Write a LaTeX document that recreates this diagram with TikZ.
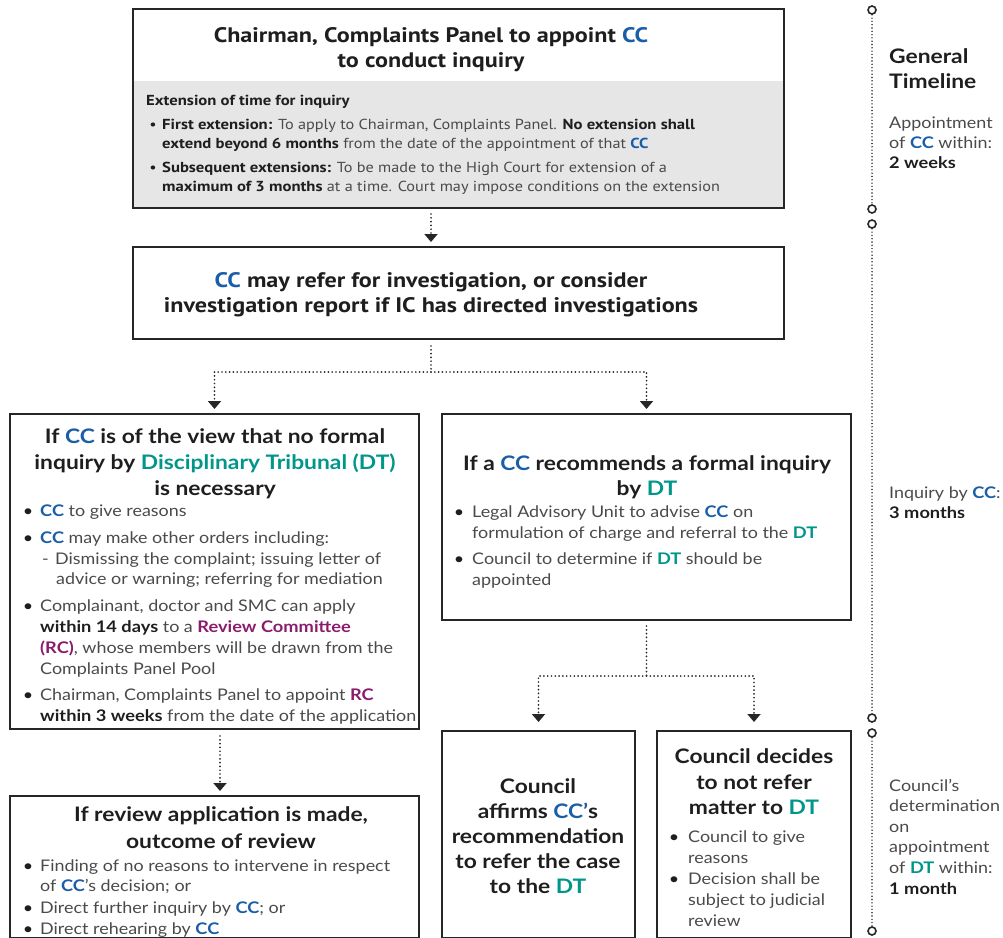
\documentclass[tikz,border=0pt]{standalone}
\usepackage{fontspec}
\setmainfont{Lato}[FakeStretch=1.12, BoldFeatures={FakeStretch=1.14}]
\newfontfamily\myriad{PT Sans}[FakeStretch=1.12, BoldFeatures={FakeStretch=1.15}]
\usetikzlibrary{arrows.meta}
\definecolor{ccblue}{HTML}{1B5EA8}
\definecolor{dtteal}{HTML}{00968A}
\definecolor{rcpurple}{HTML}{8A1C6E}
\definecolor{boxgray}{HTML}{E6E6E6}
\definecolor{ink}{HTML}{1E1E1E}
\definecolor{bodyink}{HTML}{4A4A4A}
\definecolor{frame}{HTML}{262626}
\newcommand{\ccx}{\textcolor{ccblue}{\textbf{CC}}}
\newcommand{\dtx}{\textcolor{dtteal}{\textbf{DT}}}
\newcommand{\rcx}{\textcolor{rcpurple}{\textbf{RC}}}
\newcommand{\bk}[1]{\textcolor{ink}{\textbf{#1}}}
\tikzset{
  box/.style={draw=frame, line width=2.6pt, anchor=north west, inner sep=0, outer sep=0},
  hd/.style={anchor=base, inner sep=0, text=ink, font=\fontsize{20}{24}\selectfont\bfseries},
  thd/.style={anchor=base, inner sep=0, text=ink, font=\myriad\fontsize{21}{25}\selectfont\bfseries},
  tbd/.style={anchor=base west, inner sep=0, text=bodyink, font=\myriad\fontsize{14.5}{17}\selectfont},
  bd/.style={anchor=base west, inner sep=0, text=bodyink, font=\fontsize{16}{19}\selectfont},
  bl/.style={anchor=base, inner sep=0, text=ink, font=\fontsize{16}{19}\selectfont},
  tl/.style={anchor=base west, inner sep=0, text=bodyink, font=\fontsize{16}{19}\selectfont},
  tlh/.style={anchor=base west, inner sep=0, text=ink, font=\fontsize{20}{24}\selectfont\bfseries},
  conn/.style={draw=frame, line width=1.9pt, dash pattern=on 0pt off 3.8pt, line cap=round},
  tip/.style={-{Triangle[width=13pt,length=8pt]}},
  tline/.style={draw=frame, line width=1.6pt, dash pattern=on 0pt off 3.3pt, line cap=round},
  tcirc/.style={circle, draw=frame, line width=1.6pt, fill=white, minimum size=8pt, inner sep=0},
}
\begin{document}
\begin{tikzpicture}[x=1pt,y=-1pt]
\useasboundingbox (0,0) rectangle (1003,937);
\coordinate (ax) at (431,0);
\coordinate (ax2) at (220,0);

% ---------- boxes ----------
\fill[boxgray] (134,81) rectangle (783,207);
\node[box, minimum width=651pt, minimum height=199pt] (top) at (133,9) {};
\node[box, minimum width=651pt, minimum height=92pt] (box2) at (133,247) {};
\node[box, minimum width=409pt, minimum height=315pt] (lbox) at (10,414) {};
\node[box, minimum width=409pt, minimum height=206pt] (rbox) at (442,414) {};
\node[box, minimum width=409pt, minimum height=142pt] (lbbox) at (10,796) {};
\node[box, minimum width=193pt, minimum height=207pt] (mbox) at (442,731) {};
\node[box, minimum width=194pt, minimum height=207pt] (rrbox) at (657,731) {};

% ---------- top box text ----------
\node[thd] (t1) at (431,42.5) {Chairman, Complaints Panel to appoint \ccx};
\node[thd] (t2) at (431,67.5) {to conduct inquiry};
\node[tbd, text=ink, font=\myriad\fontsize{14.5}{17}\selectfont\bfseries] (t3) at (146,105.5) {Extension of time for inquiry};
\node[bl, font=\myriad\fontsize{14.5}{17}\selectfont] (t4) at (153,129.5) {•};
\node[tbd] (t5) at (162,129.5) {\bk{First extension:} To apply to Chairman, Complaints Panel. \bk{No extension shall}};
\node[tbd] (t6) at (162,148.5) {\bk{extend beyond 6 months} from the date of the appointment of that \ccx};
\node[bl, font=\myriad\fontsize{14.5}{17}\selectfont] (t7) at (153,172.5) {•};
\node[tbd] (t8) at (162,172.5) {\bk{Subsequent extensions:} To be made to the High Court for extension of a};
\node[tbd] (t9) at (162,191) {\bk{maximum of 3 months} at a time. Court may impose conditions on the extension};

% ---------- box 2 ----------
\node[thd] (b1) at (431,287.5) {\ccx{} may refer for investigation, or consider};
\node[thd] (b2) at (431,312.5) {investigation report if IC has directed investigations};

% ---------- left box ----------
\node[hd] (l1) at (215,443) {If \ccx{} is of the view that no formal};
\node[hd] (l2) at (215,469) {inquiry by \textcolor{dtteal}{Disciplinary Tribunal (DT)}};
\node[hd] (l3) at (215,495) {is necessary};
\node[bl] (l4) at (28,516) {•};
\node[bd] (l5) at (40,516) {\ccx{} to give reasons};
\node[bl] (l6) at (28,543) {•};
\node[bd] (l7) at (40,543) {\ccx{} may make other orders including:};
\node[bd] (l8) at (42,564) {-};
\node[bd] (l9) at (55,564) {Dismissing the complaint; issuing letter of};
\node[bd] (l10) at (56,584) {advice or warning; referring for mediation};
\node[bl] (l11) at (28,611) {•};
\node[bd] (l12) at (40,611) {Complainant, doctor and SMC can apply};
\node[bd] (l13) at (40,632) {\bk{within 14 days} to a \textcolor{rcpurple}{\textbf{Review Committee}}};
\node[bd] (l14) at (40,653) {\textcolor{rcpurple}{\textbf{(RC)}}, whose members will be drawn from the};
\node[bd] (l15) at (40,674) {Complaints Panel Pool};
\node[bl] (l16) at (28,700) {•};
\node[bd] (l17) at (40,700) {Chairman, Complaints Panel to appoint \rcx};
\node[bd] (l18) at (40,721) {\bk{within 3 weeks} from the date of the application};

% ---------- right box ----------
\node[hd] (r1) at (647,470) {If a \ccx{} recommends a formal inquiry};
\node[hd] (r2) at (647,495) {by \dtx};
\node[bl] (r3) at (459,517) {•};
\node[bd] (r4) at (472,517) {Legal Advisory Unit to advise \ccx{} on};
\node[bd] (r5) at (472,538) {formulation of charge and referral to the \dtx};
\node[bl] (r6) at (459,564) {•};
\node[bd] (r7) at (472,564) {Council to determine if \dtx{} should be};
\node[bd] (r8) at (472,585) {appointed};

% ---------- bottom middle ----------
\node[hd] (m1) at (538,793) {Council};
\node[hd] (m2) at (538,818) {affirms \textcolor{ccblue}{CC’}s};
\node[hd] (m3) at (538,843) {recommendation};
\node[hd] (m4) at (538,868) {to refer the case};
\node[hd] (m5) at (538,893) {to the \dtx};

% ---------- bottom right ----------
\node[hd] (n1) at (754,763) {Council decides};
\node[hd] (n2) at (754,789) {to not refer};
\node[hd] (n3) at (754,814) {matter to \dtx};
\node[bl] (n4) at (674,842) {•};
\node[bd] (n5) at (688,842) {Council to give};
\node[bd] (n6) at (688,863) {reasons};
\node[bl] (n7) at (674,884) {•};
\node[bd] (n8) at (688,884) {Decision shall be};
\node[bd] (n9) at (688,905) {subject to judicial};
\node[bd] (n10) at (688,926) {review};

% ---------- left bottom ----------
\node[hd] (p1) at (221,821) {If review application is made,};
\node[hd] (p2) at (221,848) {outcome of review};
\node[bl] (p3) at (28,871) {•};
\node[bd] (p4) at (40,871) {Finding of no reasons to intervene in respect};
\node[bd] (p5) at (40,891) {of \ccx’s decision; or};
\node[bl] (p6) at (28,913) {•};
\node[bd] (p7) at (40,913) {Direct further inquiry by \ccx; or};
\node[bl] (p8) at (28,934) {•};
\node[bd] (p9) at (40,934) {Direct rehearing by \ccx};

% ---------- connectors ----------
\coordinate (j1) at (431,372);
\coordinate (j2) at (646.5,676);
\draw[conn, tip, shorten <=6pt, shorten >=5pt] (top.south -| ax) -- (box2.north -| ax);
\draw[conn, shorten <=7pt] (box2.south -| ax) -- (j1);
\draw[conn, tip, shorten >=5pt] (j1) -| (lbox.north);
\draw[conn, tip, shorten >=5pt] (j1) -| (rbox.north);
\draw[conn, shorten <=6pt] (rbox.south) -- (j2);
\draw[conn, tip, shorten >=9pt] (j2) -| (mbox.north);
\draw[conn, tip, shorten >=9pt] (j2) -| (rrbox.north);
\draw[conn, tip, shorten <=7pt, shorten >=5pt] (lbox.south -| ax2) -- (lbbox.north -| ax2);

% ---------- timeline ----------
\node[tcirc] (c1) at (872,10) {};
\node[tcirc] (c2) at (872,209) {};
\node[tcirc] (c3) at (872,224) {};
\node[tcirc] (c4) at (872,718) {};
\node[tcirc] (c5) at (872,733) {};
\node[tcirc] (c6) at (872,931) {};
\draw[tline] (c1) -- (c2);
\draw[tline] (c3) -- (c4);
\draw[tline] (c5) -- (c6);

\node[tlh] (g1) at (889,63) {General};
\node[tlh] (g2) at (889,88) {Timeline};
\node[tl] (g3) at (889,128) {Appointment};
\node[tl] (g4) at (889,148) {of \ccx{} within:};
\node[tl] (g5) at (889,168) {\bk{2 weeks}};
\node[tl] (g6) at (889,498) {Inquiry by \ccx:};
\node[tl] (g7) at (889,518) {\bk{3 months}};
\node[tl] (g8) at (889,791) {Council’s};
\node[tl] (g9) at (889,811) {determination};
\node[tl] (g10) at (889,832) {on};
\node[tl] (g11) at (889,852) {appointment};
\node[tl] (g12) at (889,873) {of \dtx{} within:};
\node[tl] (g13) at (889,894) {\bk{1 month}};
\end{tikzpicture}
\end{document}
